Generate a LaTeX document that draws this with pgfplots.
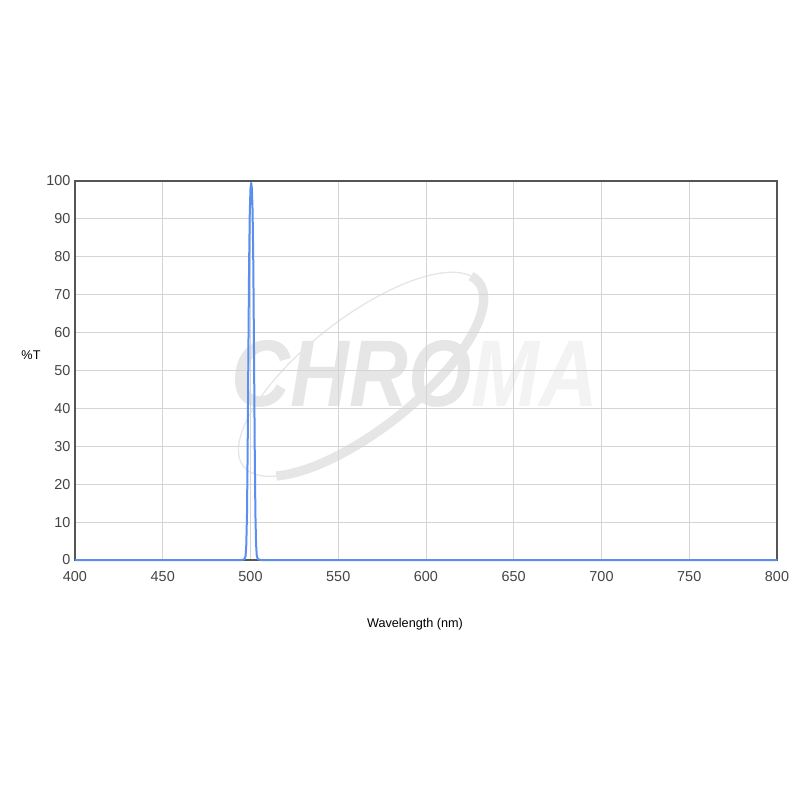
\documentclass[border=0pt]{standalone}
\usepackage{pgfplots}
\pgfplotsset{compat=1.18}
\usepackage{fontspec}
\setmainfont{Liberation Sans}
\definecolor{peak}{HTML}{5B8FEF}
\definecolor{frame}{HTML}{555555}
\definecolor{gridc}{HTML}{D4D4D4}
\definecolor{tickc}{HTML}{444444}
\definecolor{wm}{HTML}{E6E6E6}
\begin{document}
\begin{tikzpicture}
\begin{axis}[
  set layers,
  at={(0,0)}, anchor=south west,
  scale only axis,
  width=526.5pt, height=284.25pt,
  xmin=400, xmax=800, ymin=0, ymax=100,
  xtick={400,450,...,800},
  ytick={0,10,...,100},
  grid=major,
  major grid style={draw=gridc, line width=0.75pt},
  major tick length=0pt,
  axis line style={draw=frame, line width=1.5pt},
  /pgf/number format/assume math mode=true,
  /pgf/number format/1000 sep={},
  tick label style={font=\fontsize{10.8}{13}\selectfont, text=tickc},
  xticklabel style={anchor=center, yshift=-12.75pt},
  clip=false,
]
\begin{pgfonlayer}{axis background}
  \node[text=wm, font=\fontsize{71}{71}\selectfont\bfseries\itshape, xscale=0.86, inner sep=0pt] at (axis cs:593.7,49.1) {CHRO\textcolor{wm!50}{MA}};
  \begin{scope}[shift={(axis cs:563,49)}, rotate=38]
    \draw[wm, line width=1pt] (0pt,0pt) ellipse [x radius=112pt, y radius=42pt];
    \draw[wm, line width=7pt] (-97pt,-21pt) arc[start angle=-150, end angle=10, x radius=112pt, y radius=42pt];
  \end{scope}
\end{pgfonlayer}
\addplot[color=peak, line width=1.5pt, line join=round] coordinates {
(400,0) (495,0) (496.5,0.2) (497.2,1) (497.6,4) (498.0,12) (498.4,30) (498.8,55) (499.2,78) (499.6,92) (500.0,98) (500.4,99.5) (500.8,98) (501.2,92) (501.6,78) (502.0,55) (502.4,30) (502.8,12) (503.2,4) (503.6,1) (504.3,0.2) (506,0) (800,0)
};
\end{axis}
\node[font=\fontsize{9.5}{11}\selectfont, text=black] at (255pt,-48pt) {Wavelength (nm)};
\node[font=\fontsize{9.5}{11}\selectfont, text=black] at (-33pt,154pt) {\%T};
\path[use as bounding box] (-56.25pt,-180pt) rectangle (543.75pt,420pt);
\end{tikzpicture}
\end{document}
